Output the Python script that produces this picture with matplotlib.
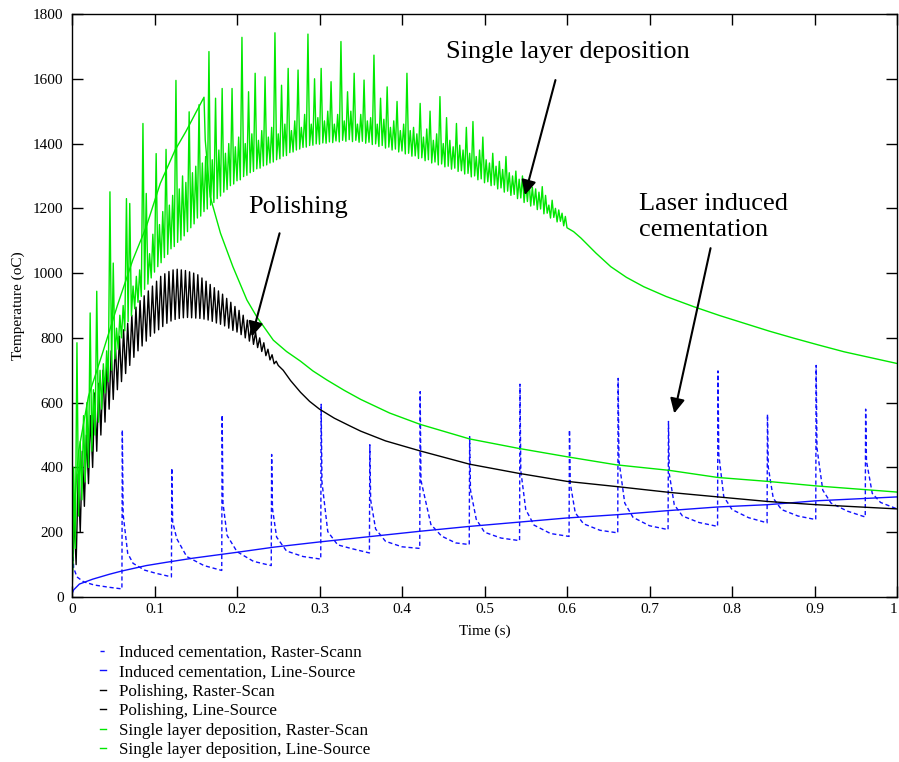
import numpy as np
import matplotlib
matplotlib.use("Agg")
import matplotlib.pyplot as plt

plt.rcParams['font.family'] = ['Liberation Serif', 'DejaVu Serif']

# --- Induced cementation, raster scan (dashed blue, pulses every ~0.06 s)
blue_r_t = [0, 0.0005, 0.002, 0.006, 0.014, 0.027, 0.045, 0.0605,
            0.061, 0.062, 0.0675, 0.074, 0.088, 0.102, 0.114, 0.1205,
            0.121, 0.122, 0.127, 0.139, 0.16, 0.1815,
            0.182, 0.183, 0.188, 0.2, 0.22, 0.2415,
            0.242, 0.243, 0.248, 0.26, 0.28, 0.3015,
            0.302, 0.303, 0.31, 0.322, 0.338, 0.3605,
            0.361, 0.362, 0.368, 0.38, 0.40, 0.4215,
            0.422, 0.423, 0.435, 0.448, 0.465, 0.4815,
            0.482, 0.483, 0.49, 0.5, 0.52, 0.5425,
            0.543, 0.544, 0.55, 0.56, 0.58, 0.6025,
            0.603, 0.604, 0.61, 0.62, 0.64, 0.6615,
            0.662, 0.663, 0.67, 0.68, 0.70, 0.7225,
            0.723, 0.724, 0.73, 0.74, 0.76, 0.7825,
            0.783, 0.784, 0.79, 0.80, 0.82, 0.8425,
            0.843, 0.844, 0.85, 0.86, 0.88, 0.9015,
            0.902, 0.903, 0.91, 0.92, 0.94, 0.9615,
            0.962, 0.963, 0.97, 0.98, 1.0]
blue_r_T = [0, 180, 90, 62, 47, 37, 30, 25,
            516, 255, 135, 104, 83, 73, 66, 62,
            398, 232, 180, 125, 97, 82,
            562, 290, 190, 140, 110, 97,
            440, 273, 185, 142, 125, 117,
            595, 355, 202, 161, 150, 136,
            470, 300, 210, 172, 155, 150,
            634, 360, 224, 188, 167, 162,
            495, 330, 240, 200, 182, 174,
            657, 390, 270, 222, 196, 187,
            516, 350, 260, 226, 206, 198,
            675, 420, 290, 246, 220, 208,
            542, 380, 285, 250, 230, 218,
            698, 440, 310, 270, 245, 229,
            564, 400, 305, 270, 250, 239,
            715, 460, 330, 290, 265, 247,
            580, 420, 320, 292, 272]

# --- Induced cementation, line source
blue_l_t = [0, 0.002, 0.009, 0.025, 0.045, 0.06, 0.09, 0.114, 0.147, 0.2, 0.245,
            0.3, 0.337, 0.422, 0.482, 0.541, 0.6, 0.66, 0.724, 0.783, 0.843, 0.902, 1.0]
blue_l_T = [10, 22, 40, 55, 70, 80, 97, 107, 120, 138, 154,
            170, 180, 203, 218, 231, 244, 254, 267, 278, 285, 297, 309]

# --- Polishing, raster scan: sawtooth (troughs / crests) then smooth cooling
black_dt = 0.005
black_low = [0, 100, 200, 280, 350, 400, 450, 500, 540, 580,
             610, 640, 665, 690, 715, 740, 760, 775, 790, 805,
             815, 825, 835, 845, 852, 857, 860, 862, 863, 862,
             861, 860, 858, 855, 851, 846, 842, 837, 830, 823,
             818, 810, 800, 790, 780, 770, 758, 745, 732, 720]
black_high = [250, 380, 450, 500, 560, 630, 660, 700, 730, 760,
              785, 805, 825, 845, 870, 895, 915, 930, 945, 960,
              975, 990, 998, 1005, 1010, 1012, 1010, 1008, 1004, 1000,
              995, 985, 975, 965, 955, 945, 935, 922, 910, 897,
              885, 870, 855, 838, 818, 800, 785, 765, 748, 728]
black_tail_t = [0.25, 0.256, 0.265, 0.277, 0.288, 0.30, 0.318, 0.337, 0.35, 0.38,
                0.422, 0.482, 0.541, 0.60, 0.66, 0.724, 0.783, 0.843, 0.902, 1.0]
black_tail_T = [715, 700, 668, 632, 604, 580, 552, 528, 512, 482,
                451, 410, 382, 357, 341, 323, 309, 295, 285, 272]

# --- Single layer deposition, raster scan: noisy band then smooth cooling
green_dt = 0.004
green_low = [0, 150, 250, 300, 355, 400, 450, 500, 540, 580,
             630, 665, 700, 735, 765, 800, 822, 850, 868, 890,
             910, 928, 950, 966, 985, 1003, 1020, 1032, 1048, 1058,
             1075, 1082, 1095, 1102, 1115, 1128, 1140, 1152, 1170, 1176,
             1190, 1198, 1210, 1218, 1230, 1238, 1250, 1258, 1270, 1275,
             1285, 1288, 1298, 1302, 1310, 1314, 1322, 1324, 1331, 1334,
             1340, 1343, 1350, 1353, 1361, 1363, 1372, 1374, 1380, 1383,
             1388, 1389, 1394, 1395, 1399, 1398, 1402, 1401, 1405, 1403,
             1408, 1405, 1410, 1407, 1412, 1406, 1410, 1404, 1407, 1401,
             1404, 1397, 1399, 1391, 1394, 1386, 1389, 1380, 1383, 1374,
             1377, 1368, 1370, 1361, 1362, 1354, 1356, 1347, 1350, 1340,
             1343, 1334, 1337, 1328, 1330, 1321, 1324, 1314, 1316, 1306,
             1308, 1297, 1300, 1288, 1291, 1279, 1282, 1270, 1272, 1260,
             1263, 1250, 1253, 1240, 1243, 1230, 1232, 1218, 1221, 1207,
             1210, 1196, 1198, 1183, 1185, 1170, 1172, 1158, 1160, 1146]
green_high = [400, 785, 480, 560, 600, 877, 640, 944, 700, 720,
              760, 1251, 1031, 830, 870, 900, 1230, 1215, 960, 990,
              1010, 1462, 1246, 1060, 1120, 1369, 1150, 1190, 1382, 1210,
              1240, 1595, 1260, 1300, 1280, 1498, 1310, 1330, 1520, 1340,
              1360, 1684, 1350, 1540, 1380, 1570, 1370, 1400, 1570, 1390,
              1420, 1728, 1400, 1560, 1430, 1617, 1410, 1440, 1606, 1420,
              1450, 1742, 1430, 1580, 1460, 1632, 1440, 1470, 1627, 1450,
              1490, 1738, 1460, 1600, 1480, 1632, 1470, 1500, 1591, 1460,
              1490, 1715, 1470, 1560, 1500, 1617, 1460, 1490, 1596, 1470,
              1480, 1673, 1460, 1540, 1475, 1575, 1450, 1470, 1530, 1440,
              1460, 1617, 1440, 1450, 1430, 1524, 1420, 1445, 1500, 1410,
              1430, 1545, 1400, 1480, 1410, 1390, 1462, 1395, 1380, 1450,
              1370, 1468, 1360, 1380, 1420, 1350, 1340, 1370, 1330, 1345,
              1320, 1360, 1310, 1300, 1315, 1290, 1300, 1280, 1285, 1265,
              1260, 1250, 1267, 1240, 1210, 1225, 1200, 1195, 1185, 1175]
green_tail_t = [0.6, 0.608, 0.617, 0.635, 0.653, 0.672, 0.693, 0.72, 0.754,
                0.785, 0.815, 0.845, 0.875, 0.905, 0.936, 0.968, 1.0]
green_tail_T = [1140, 1128, 1108, 1062, 1020, 987, 958, 928, 896,
                869, 845, 821, 799, 778, 757, 739, 721]

# --- Single layer deposition, line source
green_l_t = [0, 0.002, 0.008, 0.02, 0.037, 0.055, 0.0736, 0.09, 0.107, 0.125,
             0.138, 0.15, 0.16, 0.1615, 0.1675, 0.18, 0.195, 0.212, 0.224, 0.244,
             0.26, 0.277, 0.292, 0.309, 0.33, 0.35, 0.385, 0.422, 0.482, 0.541,
             0.6, 0.66, 0.724, 0.783, 0.843, 0.902, 1.0]
green_l_T = [0, 250, 450, 620, 753, 900, 1040, 1143, 1277, 1380,
             1437, 1495, 1543, 1411, 1236, 1123, 1020, 917, 865, 793,
             758, 728, 698, 670, 638, 610, 568, 533, 488, 459,
             433, 408, 391, 369, 357, 343, 324]

labels = ["Induced cementation, Raster-Scann",
          "Induced cementation, Line-Source",
          "Polishing, Raster-Scan",
          "Polishing, Line-Source",
          "Single layer deposition, Raster-Scan",
          "Single layer deposition, Line-Source"]
xtick_labels = ['0', '0.1', '0.2', '0.3', '0.4', '0.5', '0.6', '0.7', '0.8', '0.9', '1']


def zigzag(low, high, dt):
    # interleave troughs and crests
    n = len(low)
    t = np.empty(2 * n)
    v = np.empty(2 * n)
    t[0::2] = np.arange(n) * dt
    t[1::2] = np.arange(n) * dt + dt / 2
    v[0::2] = low
    v[1::2] = high
    return t, v


bk_t, bk_T = zigzag(black_low, black_high, black_dt)
bk_t = np.concatenate([bk_t, black_tail_t])
bk_T = np.concatenate([bk_T, black_tail_T])

gr_t, gr_T = zigzag(green_low, green_high, green_dt)
gr_t = np.concatenate([gr_t, green_tail_t])
gr_T = np.concatenate([gr_T, green_tail_T])

GREEN = '#00e800'
BLUE = '#1010ff'

fig = plt.figure(figsize=(8.99, 7.62), dpi=100)
ax = fig.add_axes([72 / 899, 1 - 597 / 762, 825 / 899, 583 / 762])

ax.plot(blue_r_t, blue_r_T, color=BLUE, lw=1.0, ls=(0, (3, 2)), label=labels[0])
ax.plot(blue_l_t, blue_l_T, color=BLUE, lw=1.0, label=labels[1])
ax.plot(bk_t, bk_T, color='black', lw=1.0, label=labels[2])
ax.plot([], [], color='black', lw=1.0, label=labels[3])
ax.plot(gr_t, gr_T, color=GREEN, lw=1.0, label=labels[4])
ax.plot(green_l_t, green_l_T, color=GREEN, lw=1.0, label=labels[5])

ax.set_xlim(0, 1)
ax.set_ylim(0, 1800)
ax.set_xticks(np.arange(0, 1.01, 0.1))
ax.set_xticklabels(xtick_labels)
ax.get_xticklabels()[-1].set_ha('right')  # keep the last label inside the figure
ax.set_yticks(np.arange(0, 1801, 200))
ax.tick_params(direction='in', length=8, width=1, top=True, right=True, labelsize=11)
ax.tick_params(axis='y', pad=6)
ax.tick_params(axis='x', pad=4)
for s in ax.spines.values():
    s.set_linewidth(1)

ax.set_xlabel("Time (s)", fontsize=11)
ax.set_ylabel("Temperature (oC)", fontsize=11)
ax.xaxis.set_label_coords(0.5, -0.048)
ax.yaxis.set_label_coords(-0.057, 0.5)

arrow = dict(arrowstyle='-|>', color='black', lw=1.5, mutation_scale=22,
             shrinkA=0, shrinkB=0)
ax.annotate("", xy=(0.549, 1241), xytext=(0.586, 1596), arrowprops=arrow)
ax.annotate("", xy=(0.218, 804), xytext=(0.2516, 1123), arrowprops=arrow)
ax.annotate("", xy=(0.73, 567), xytext=(0.774, 1077), arrowprops=arrow)

ax.text(0.453, 1683, "Single layer deposition", fontsize=19, va='center', ha='left')
ax.text(0.2136, 1204, "Polishing", fontsize=19, va='center', ha='left')
ax.text(0.687, 1173, "Laser induced\ncementation", fontsize=19, va='center', ha='left',
        linespacing=1.2)

fig.legend(loc='upper left', bbox_to_anchor=(100 / 899, 1 - 645 / 762),
           frameon=False, fontsize=12.3, handlelength=0.35, handletextpad=0.75,
           labelspacing=0.2, borderpad=0, borderaxespad=0)

fig.savefig("out.png", dpi=100)
